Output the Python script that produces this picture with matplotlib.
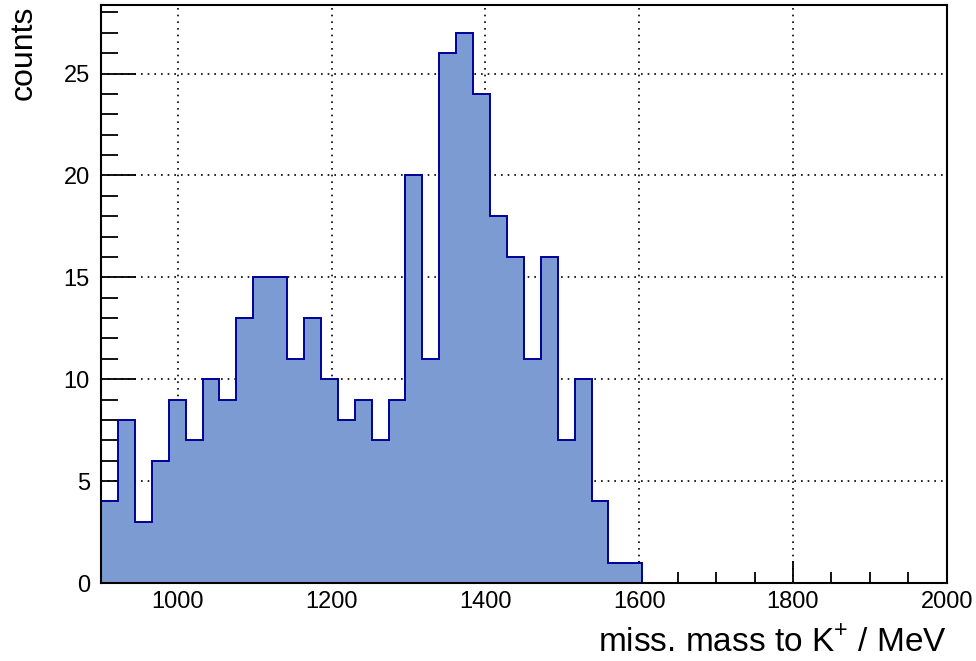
import numpy as np
import matplotlib.pyplot as plt
from matplotlib.ticker import MultipleLocator

plt.rcParams['font.family'] = ['Liberation Sans', 'DejaVu Sans']
plt.rcParams['mathtext.fontset'] = 'custom'
plt.rcParams['mathtext.rm'] = 'Liberation Sans'

# histogram: 50 bins of 22 MeV from 900 to 2000
bin_edges = np.linspace(900, 2000, 51)
counts = [4, 8, 3, 6, 9, 7, 10, 9, 13, 15,
          15, 11, 13, 10, 8, 9, 7, 9, 20, 11,
          26, 27, 24, 18, 16, 11, 16, 7, 10, 4,
          1, 1] + [0] * 18

fig = plt.figure(figsize=(9.76, 6.61), dpi=100)
ax = fig.add_axes([0.1035, 0.118, 0.8665, 0.874])

ax.stairs(counts, bin_edges, fill=True, color='#7b9bd2', zorder=2)
ax.stairs(counts, bin_edges, color='#000099', linewidth=1.4, zorder=3)

ax.set_xlim(900, 2000)
ax.set_ylim(0, 1.05 * max(counts))

ax.xaxis.set_major_locator(MultipleLocator(200))
ax.xaxis.set_minor_locator(MultipleLocator(50))
ax.yaxis.set_major_locator(MultipleLocator(5))
ax.yaxis.set_minor_locator(MultipleLocator(1))
ax.tick_params(which='both', direction='in', top=False, right=False,
               labelsize=17, width=1.3)
ax.tick_params(axis='x', which='major', length=16, pad=6)
ax.tick_params(axis='x', which='minor', length=8)
ax.tick_params(axis='y', which='major', length=25, pad=8)
ax.tick_params(axis='y', which='minor', length=12)

ax.grid(True, which='major', linestyle=(0, (1, 3)), color='black',
        linewidth=1.2, zorder=1)
ax.set_axisbelow(True)
for s in ax.spines.values():
    s.set_linewidth(1.5)
    s.set_zorder(4)

ax.set_xlabel(r'miss. mass to K$^{\mathrm{+}}$ / MeV', fontsize=24,
              ha='right', x=1.0, labelpad=9)
fig.text(0.024, 1 - 100 / 661, 'counts', fontsize=23, rotation=90,
         ha='center', va='bottom')

fig.savefig('out.png', dpi=100)
